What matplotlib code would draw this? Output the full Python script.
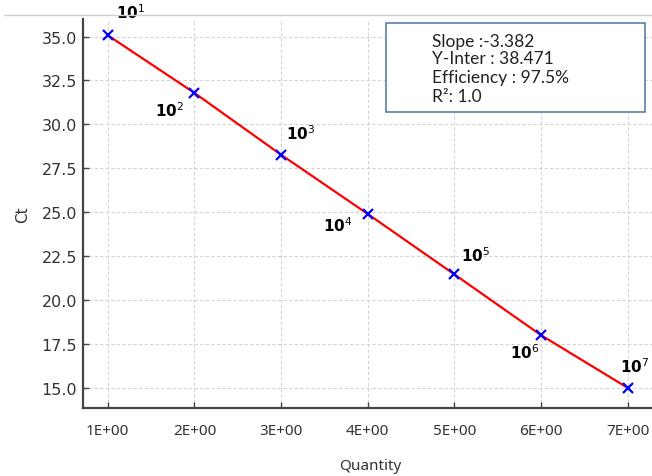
import matplotlib
matplotlib.use("Agg")
import matplotlib.pyplot as plt
from matplotlib.patches import Rectangle
from matplotlib.lines import Line2D

# ---- data ----
quantity = [1, 2, 3, 4, 5, 6, 7]
ct_values = [35.07, 31.79, 28.27, 24.90, 21.46, 18.00, 15.00]
point_labels = ["1", "2", "3", "4", "5", "6", "7"]
x_tick_labels = ["1E+00", "2E+00", "3E+00", "4E+00", "5E+00", "6E+00", "7E+00"]
y_ticks = [15.0, 17.5, 20.0, 22.5, 25.0, 27.5, 30.0, 32.5, 35.0]
stats_lines = ["Slope :-3.382", "Y-Inter : 38.471", "Efficiency : 97.5%", "R\u00b2: 1.0"]

# ---- layout (pixels) ----
W, H = 652, 477
DPI = 100
fig = plt.figure(figsize=(W / DPI, H / DPI), dpi=DPI)

def fx(px):
    return px / W

def fy(py):
    return 1 - py / H

ax_left, ax_right, ax_top, ax_bottom = 82.7, 658.0, 20.0, 408.7
ax = fig.add_axes([fx(ax_left), fy(ax_bottom), (ax_right - ax_left) / W, (ax_bottom - ax_top) / H])
ax.set_xlim(0.71, 7.35)
ax.set_ylim(13.87, 36.0)

ax.grid(True, color="#d4d4d4", linestyle=(0, (3, 2)), linewidth=0.8)
ax.set_axisbelow(True)

ax.plot(quantity, ct_values, color="red", linewidth=1.6, zorder=3)
ax.plot(quantity, ct_values, linestyle="none", marker="x", color="blue",
        markersize=7, markeredgewidth=1.6, zorder=4)

# label offsets in pixels (dx, dy up), alignment
offsets = [(8, 24, "left"), (-10, -17, "right"), (5, 22, "left"), (-15, -11, "right"),
           (7, 20, "left"), (-2, -16, "right"), (-8, 22, "left")]
for q, c, lab, (dx, dy, ha) in zip(quantity, ct_values, point_labels, offsets):
    ax.annotate(r"$\mathbf{10}^{%s}$" % lab, (q, c), xytext=(dx * 0.72, dy * 0.72),
                textcoords="offset points", ha=ha, va="center", fontsize=11,
                color="black", zorder=5, annotation_clip=False)

ax.set_xticks(quantity)
ax.set_xticklabels(x_tick_labels, fontfamily="Noto Sans", fontsize=11, color="#333333")
ax.set_yticks(y_ticks)
ax.set_yticklabels([f"{v:.1f}" for v in y_ticks], fontfamily="DejaVu Sans", fontsize=11.5,
                   color="#333333")
ax.tick_params(axis="x", direction="in", length=4, width=1, color="#444444", pad=11)
ax.tick_params(axis="y", direction="in", length=4, width=1, color="#444444", pad=4)

for s in ["left", "bottom"]:
    ax.spines[s].set_color("#444444")
    ax.spines[s].set_linewidth(1.6)
ax.spines["top"].set_visible(False)
ax.spines["right"].set_visible(False)

# thin light frame line across the top of the figure
fig.lines.append(Line2D([fx(4), 1.0], [fy(15.7), fy(15.7)], transform=fig.transFigure,
                        color="#d0d0d0", linewidth=1.0, zorder=0))

ax.set_xlabel("Quantity", fontfamily="Noto Sans", fontsize=11, color="#333333")
ax.xaxis.set_label_coords(0.5, -(459.0 - ax_bottom) / (ax_bottom - ax_top))
ax.set_ylabel("Ct", fontfamily="DejaVu Sans", fontsize=11, color="#333333")
ax.yaxis.set_label_coords(-(ax_left - 30) / (ax_right - ax_left), 0.5)

# stats box
box = Rectangle((fx(386), fy(112.7)), (645 - 386) / W, (112.7 - 24.3) / H,
                transform=fig.transFigure, facecolor="white", edgecolor="#5a7fa8",
                linewidth=1.2, zorder=10)
fig.patches.append(box)
baselines = [46.7, 64.5, 83.3, 102.0]
for line, by in zip(stats_lines, baselines):
    fig.text(fx(431.7), fy(by), line, fontfamily="Lato", fontsize=12.5, color="#222222",
             va="baseline", ha="left", zorder=11)

fig.savefig("out.png", dpi=DPI)
